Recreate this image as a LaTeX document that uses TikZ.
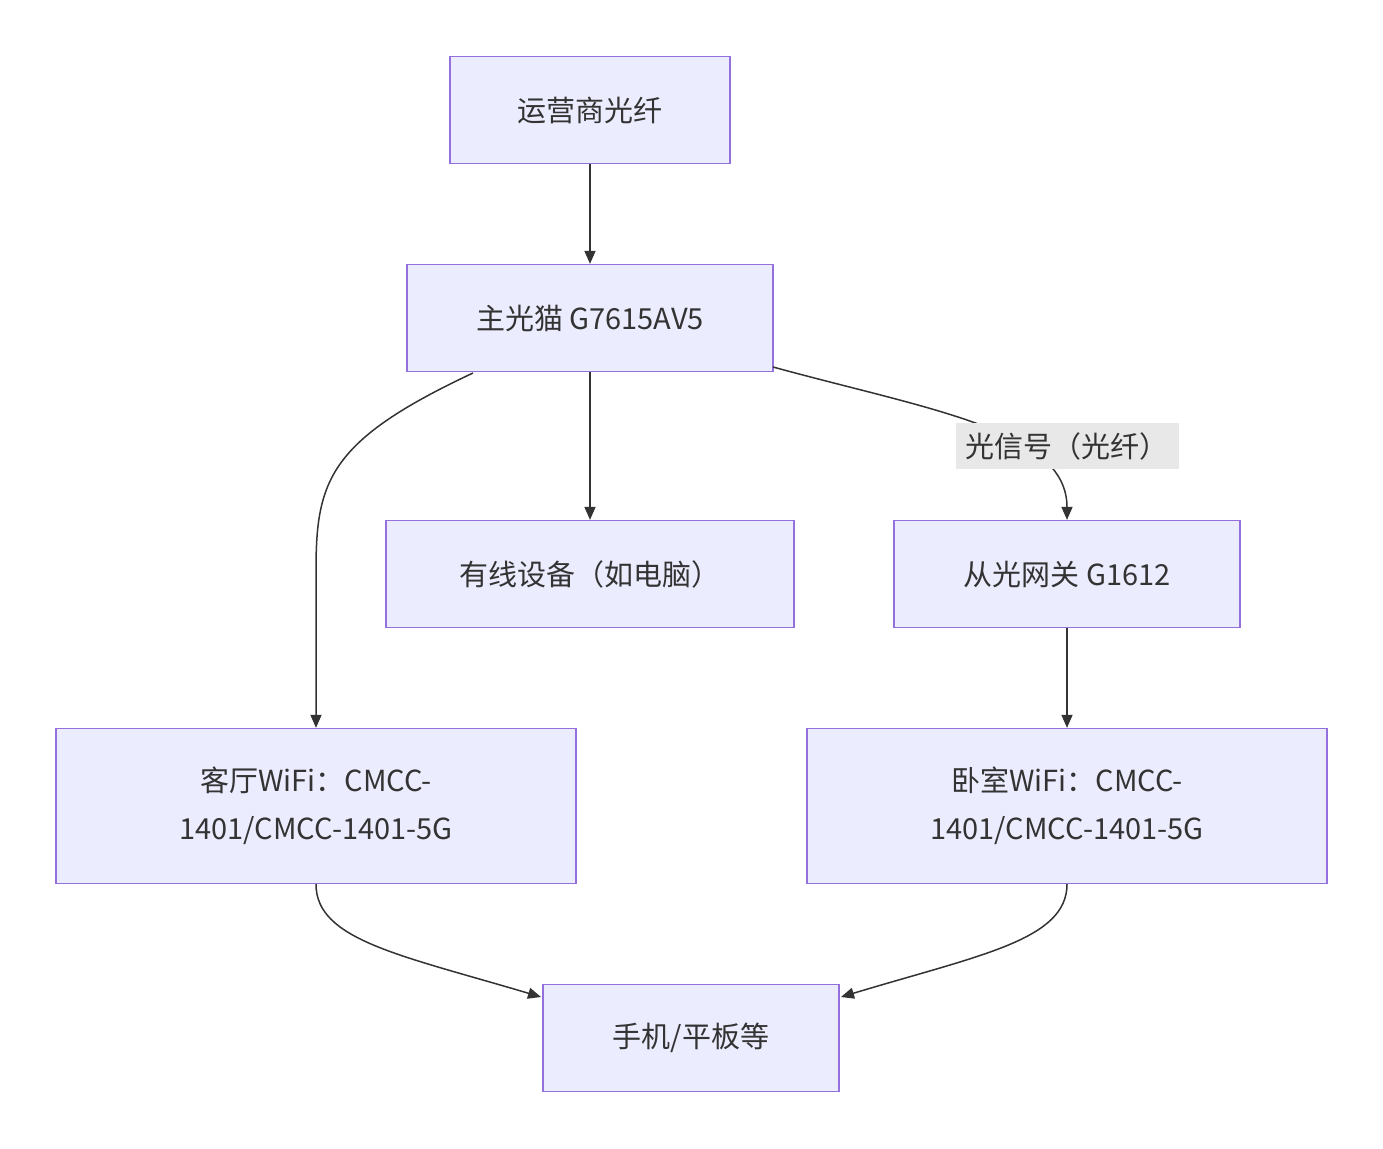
\documentclass[tikz,border=0pt]{standalone}
\usepackage{fontspec}
\setmainfont{Noto Sans CJK SC}
\usetikzlibrary{arrows.meta}
\definecolor{nfill}{HTML}{ECECFF}
\definecolor{nborder}{HTML}{9370DB}
\definecolor{ln}{HTML}{333333}
\definecolor{lbg}{HTML}{E8E8E8}
\begin{document}
\begin{tikzpicture}[x=1pt,y=-1pt,
 box/.style={draw=nborder,fill=nfill,line width=1.3pt,inner sep=0pt,text=ln,font=\fontsize{29}{48}\selectfont,align=center},
 ar/.style={draw=ln,line width=1.5pt,-{Triangle[length=13pt,width=11pt]}}]
\useasboundingbox (0,0) rectangle (1383,1148);
\node[box,minimum width=280pt,minimum height=107pt] (A) at (590,110) {运营商光纤};
\node[box,minimum width=366pt,minimum height=107pt] (B) at (590,318) {主光猫 G7615AV5};
\node[box,minimum width=408pt,minimum height=107pt] (C) at (590,574) {有线设备（如电脑）};
\node[box,minimum width=346pt,minimum height=107pt] (D) at (1067,574) {从光网关 G1612};
\node[box,minimum width=520pt,minimum height=155pt] (E) at (316,806) {客厅WiFi：CMCC-\\1401/CMCC-1401-5G};
\node[box,minimum width=520pt,minimum height=155pt] (F) at (1067,806) {卧室WiFi：CMCC-\\1401/CMCC-1401-5G};
\node[box,minimum width=296pt,minimum height=107pt] (G) at (691,1038) {手机/平板等};
\coordinate (b1) at (473,373);
\coordinate (b2) at (773,367);
\draw[ar] (A) -- (B);
\draw[ar] (B) -- (C);
\draw[ar] (b1) .. controls (330,440) and (316,480) .. (316,570) -- (E.north);
\draw[ar] (b2) .. controls (930,410) and (1067,430) .. (D.north);
\node[fill=lbg,text=ln,inner sep=3pt,minimum width=223pt,minimum height=46pt,font=\fontsize{29}{34}\selectfont] (L) at (1067,446) {光信号（光纤）};
\draw[ar] (D) -- (F);
\draw[ar] (E.south) .. controls (316,940) and (400,955) .. (541,997);
\draw[ar] (F.south) .. controls (1067,940) and (980,955) .. (841,997);
\end{tikzpicture}
\end{document}
